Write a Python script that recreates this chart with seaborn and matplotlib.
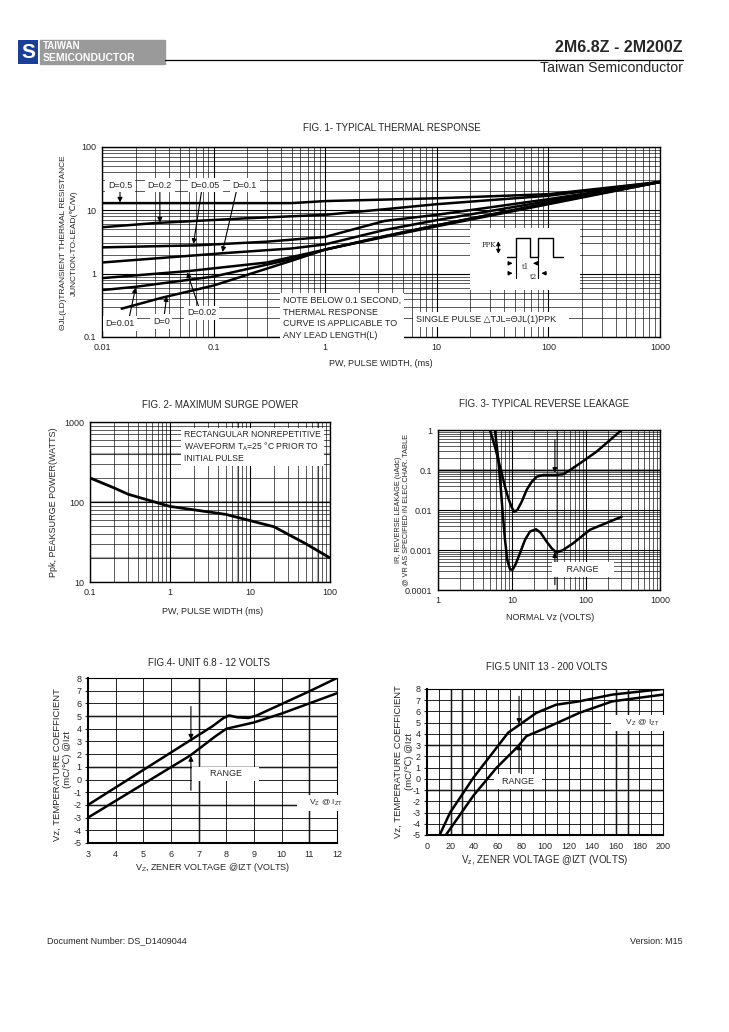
import numpy as np
import pandas as pd
import seaborn as sns
import matplotlib.pyplot as plt
from matplotlib.ticker import FuncFormatter, LogLocator, NullFormatter, MultipleLocator
from matplotlib.patches import Rectangle

sns.set_style("white")
plt.rcParams['font.family'] = ['Liberation Sans', 'DejaVu Sans']
plt.rcParams['font.size'] = 6.5
plt.rcParams['axes.unicode_minus'] = False

# Fig 1 - typical thermal response, one curve per duty cycle
d05_x = [0.01, 0.5, 1, 10, 100, 1000]
d05_y = [13, 13, 14, 15.5, 18, 28]
d02_x = [0.01, 0.03, 0.2, 1, 3.4, 10, 100, 1000]
d02_y = [5.4, 6.3, 7.5, 8.5, 10.4, 12.5, 17, 28]
d005_x = [0.01, 0.07, 0.3, 1, 3.4, 10, 100, 1000]
d005_y = [2.6, 2.8, 3.2, 3.8, 6.8, 8.5, 15, 28]
d01_x = [0.01, 0.12, 0.5, 1, 3.4, 10, 100, 1000]
d01_y = [1.5, 2.1, 2.5, 2.9, 4.9, 7, 14, 28]
d002_x = [0.01, 0.06, 0.3, 1, 3.4, 10, 100, 1000]
d002_y = [0.85, 1.1, 1.5, 2.4, 3.9, 5.8, 13, 28]
d001_x = [0.01, 0.02, 0.1, 0.5, 1, 3.4, 10, 100, 1000]
d001_y = [0.55, 0.62, 0.9, 1.7, 2.4, 3.9, 5.8, 13, 28]
d0_x = [0.015, 0.035, 0.1, 0.5, 1, 3.4, 10, 100, 1000]
d0_y = [0.28, 0.42, 0.65, 1.6, 2.4, 3.8, 5.6, 12.5, 28]

# Fig 2 - maximum surge power
pw_ms = [0.1, 0.2, 0.3, 1, 5, 20, 50, 100]
ppk_w = [200, 150, 125, 88, 70, 49, 30, 20]

# Fig 3 - typical reverse leakage (upper and lower limit)
ir_hi_vz = [5.04, 5.89, 6.53, 7.26, 8.04, 8.92, 9.9, 10.7, 11.8, 13.5, 15.8, 18.5,
            21.6, 26.5, 38, 49, 61, 83, 139, 303]
ir_hi = [1.0, 0.38, 0.178, 0.083, 0.038, 0.0196, 0.0117, 0.0091, 0.01, 0.016, 0.032, 0.051,
         0.068, 0.075, 0.075, 0.078, 0.1, 0.147, 0.288, 1.0]
ir_lo_vz = [5.89, 6.53, 7.03, 7.49, 8.04, 8.65, 9.4, 10.2, 11.3, 12.8, 15, 17.5, 21.1,
            24.4, 28.8, 34.4, 40, 49, 67, 113, 303]
ir_lo = [1.0, 0.178, 0.038, 0.0083, 0.0018, 0.00056, 0.00033, 0.00032, 0.00046, 0.00083,
         0.0018, 0.0029, 0.0033, 0.0027, 0.0017, 0.0011, 0.00086, 0.001, 0.00147, 0.0032, 0.0068]

# Fig 4 - temperature coefficient, 6.8 - 12 V
tc4_hi_vz = [3, 7.5, 7.9, 8.1, 8.4, 8.8, 9.1, 10, 11, 12]
tc4_hi = [-2, 4.2, 4.85, 5.05, 4.9, 4.85, 5.05, 5.95, 6.95, 8]
tc4_lo_vz = [3, 6.7, 7.6, 8, 8.5, 9, 10, 11, 12]
tc4_lo = [-3, 1.9, 3.4, 4.0, 4.25, 4.5, 5.2, 6.0, 6.8]

# Fig 5 - temperature coefficient, 13 - 200 V
tc5_hi_vz = [10.7, 19.6, 39.3, 53.3, 68.7, 78.6, 92.6, 109.4, 129, 157, 200]
tc5_hi = [-5, -3.0, 0.1, 2.0, 4.1, 4.83, 5.87, 6.6, 6.9, 7.5, 8.0]
tc5_lo_vz = [16, 39.3, 58.9, 77.2, 84.2, 101, 129, 157, 200]
tc5_lo = [-5, -1.5, 0.98, 2.9, 3.8, 4.54, 5.87, 6.9, 7.5]

W, H = 729, 1032
fig = plt.figure(figsize=(W / 100, H / 100), dpi=100)


def add_ax(x0, y0, x1, y1):
    return fig.add_axes([x0 / W, 1 - y1 / H, (x1 - x0) / W, (y1 - y0) / H])


def ftext(x, y, s, **kw):
    fig.text(x / W, 1 - y / H, s, **kw)


def curve(ax, xs, ys, lw=1.8):
    sns.lineplot(x=xs, y=ys, ax=ax, color='black', lw=lw, estimator=None, sort=False)


def arrow(ax, tail, tip, lw=0.8):
    ax.annotate('', xy=tip, xytext=tail,
                arrowprops=dict(arrowstyle='-|>', color='black', lw=lw, mutation_scale=7,
                                shrinkA=0, shrinkB=0))


def box_text(ax, x, y, s, **kw):
    ax.text(x, y, s, bbox=dict(facecolor='white', edgecolor='none', pad=2), zorder=5, **kw)


def style_log(ax):
    ax.grid(True, which='major', color='black', lw=0.8)
    ax.grid(True, which='minor', color='black', lw=0.45)
    ax.xaxis.set_minor_locator(LogLocator(base=10, subs=np.arange(2, 10)))
    ax.yaxis.set_minor_locator(LogLocator(base=10, subs=np.arange(2, 10)))
    ax.xaxis.set_minor_formatter(NullFormatter())
    ax.yaxis.set_minor_formatter(NullFormatter())
    fmt = FuncFormatter(lambda v, p: '%g' % v)
    ax.xaxis.set_major_formatter(fmt)
    ax.yaxis.set_major_formatter(fmt)
    ax.tick_params(which='both', length=0, labelsize=6.5, pad=4)
    for s in ax.spines.values():
        s.set_color('black')
        s.set_linewidth(1.0)


# ---------------- header ----------------
logo = fig.add_axes([18 / W, 1 - 64 / H, 20 / W, 24 / H])
logo.axis('off')
logo.add_patch(Rectangle((0, 0), 1, 1, color='#1b3f95'))
logo.text(0.5, 0.48, 'S', color='white', fontsize=15, fontweight='bold', ha='center', va='center')
fig.patches.append(Rectangle((40 / W, 1 - 64 / H), 125 / W, 24 / H, transform=fig.transFigure,
                             color='#9a9a9a'))
ftext(43, 46, 'TAIWAN', color='white', fontsize=7, fontweight='bold', va='center')
ftext(43, 58, 'SEMICONDUCTOR', color='white', fontsize=7.5, fontweight='bold', va='center')
fig.add_artist(plt.Line2D([165 / W, 683 / W], [1 - 59.5 / H, 1 - 59.5 / H], color='black', lw=0.9))
ftext(683, 48, '2M6.8Z - 2M200Z', fontsize=11.5, fontweight='bold', ha='right', va='center')
ftext(683, 67.5, 'Taiwan Semiconductor', fontsize=10.2, ha='right', va='center')

# ---------------- Fig 1 ----------------
ax1 = add_ax(102, 147, 660, 337)
ax1.set_xscale('log')
ax1.set_yscale('log')
for xs, ys in [(d05_x, d05_y), (d02_x, d02_y), (d005_x, d005_y), (d01_x, d01_y),
               (d002_x, d002_y), (d001_x, d001_y), (d0_x, d0_y)]:
    curve(ax1, xs, ys)
ax1.set_xlim(0.01, 1000)
ax1.set_ylim(0.1, 100)
style_log(ax1)
for x, s in [(0.0145, 'D=0.5'), (0.033, 'D=0.2'), (0.084, 'D=0.05'), (0.19, 'D=0.1')]:
    box_text(ax1, x, 25, s, ha='center', va='center', fontsize=6.5)
arrow(ax1, (0.0145, 20), (0.0145, 13.3))
arrow(ax1, (0.033, 20), (0.033, 6.4))
arrow(ax1, (0.078, 20), (0.066, 2.95))
arrow(ax1, (0.16, 20), (0.12, 2.2))
box_text(ax1, 0.0145, 0.165, 'D=0.01', ha='center', va='center', fontsize=6.5)
box_text(ax1, 0.034, 0.175, 'D=0', ha='center', va='center', fontsize=6.5)
box_text(ax1, 0.078, 0.24, 'D=0.02', ha='center', va='center', fontsize=6.5)
arrow(ax1, (0.0175, 0.2), (0.02, 0.6))
arrow(ax1, (0.036, 0.21), (0.038, 0.44))
arrow(ax1, (0.074, 0.29), (0.058, 1.05))
box_text(ax1, 0.42, 0.2, 'NOTE BELOW 0.1 SECOND,\nTHERMAL RESPONSE\nCURVE IS APPLICABLE TO\nANY LEAD LENGTH(L)',
         ha='left', va='center', fontsize=6.5, linespacing=1.35)
box_text(ax1, 6.5, 0.19, 'SINGLE PULSE \u25b3TJL=\u0398JL(1)PPK    ', ha='left', va='center', fontsize=6.5)

# pulse sketch
ins = add_ax(470, 228, 580, 290)
ins.set_facecolor('white')
ins.set_xlim(0, 1)
ins.set_ylim(0, 1)
ins.set_xticks([])
ins.set_yticks([])
for s in ins.spines.values():
    s.set_visible(False)
ins.plot([0.333, 0.415, 0.415, 0.545, 0.545, 0.621, 0.621, 0.758, 0.758, 0.842],
         [0.538, 0.538, 0.833, 0.833, 0.538, 0.538, 0.833, 0.833, 0.538, 0.538], color='black', lw=1)
ins.plot([0.415, 0.415], [0.538, 0.19], color='black', lw=0.8)
ins.plot([0.621, 0.621], [0.538, 0.19], color='black', lw=0.8)
ins.annotate('', xy=(0.258, 0.833), xytext=(0.258, 0.538),
             arrowprops=dict(arrowstyle='<|-|>', color='black', lw=0.8, mutation_scale=6))
ins.text(0.17, 0.72, 'PPK', fontsize=5, family='DejaVu Serif', ha='center', va='center')
for tail, tip in [((0.333, 0.43), (0.413, 0.43)), ((0.62, 0.43), (0.548, 0.43)),
                  ((0.333, 0.27), (0.413, 0.27)), ((0.72, 0.27), (0.624, 0.27))]:
    ins.annotate('', xy=tip, xytext=tail,
                 arrowprops=dict(arrowstyle='-|>', color='black', lw=0.8, mutation_scale=6))
ins.text(0.505, 0.37, 't1', fontsize=5, family='DejaVu Serif', ha='center', va='center')
ins.text(0.575, 0.21, 't2', fontsize=5, family='DejaVu Serif', ha='center', va='center')

ftext(392, 128, 'FIG. 1- TYPICAL THERMAL RESPONSE', ha='center', va='center', fontsize=7)
ftext(381, 364, 'PW, PULSE WIDTH, (ms)', ha='center', va='center', fontsize=6.5)
ftext(64, 243, '\u0398JL(LD)TRANSIENT THERMAL RESISTANCE', rotation=90, ha='center', va='center', fontsize=6)
ftext(74, 243, 'JUNCTION-TO-LEAD(\u2103/W)', rotation=90, ha='center', va='center', fontsize=6)

# ---------------- Fig 2 ----------------
ax2 = add_ax(90, 422, 330, 582)
ax2.set_xscale('log')
ax2.set_yscale('log')
curve(ax2, pw_ms, ppk_w, lw=2)
ax2.set_xlim(0.1, 100)
ax2.set_ylim(10, 1000)
style_log(ax2)
for v in [7, 70]:
    ax2.axvline(v, color='#aaaaaa', lw=1.6, zorder=0.5)
for v in [20, 100, 400]:
    ax2.axhline(v, color='#aaaaaa', lw=1.6, zorder=0.5)
box_text(ax2, 1.5, 490, 'RECTANGULAR NONREPETITIVE\nWAVEFORM T$_\\mathregular{A}$=25 \u00b0C PRIOR TO\nINITIAL PULSE ',
         ha='left', va='center', fontsize=6.2, linespacing=1.15)
ftext(220, 405, 'FIG. 2- MAXIMUM SURGE POWER', ha='center', va='center', fontsize=7)
ftext(213, 612, 'PW, PULSE WIDTH (ms)', ha='center', va='center', fontsize=6.5)
ftext(54, 502, 'Ppk, PEAKSURGE POWER(WATTS)', rotation=90, ha='center', va='center', fontsize=6.5)

# ---------------- Fig 3 ----------------
ax3 = add_ax(438, 430, 660, 590)
ax3.set_xscale('log')
ax3.set_yscale('log')
curve(ax3, ir_hi_vz, ir_hi)
curve(ax3, ir_lo_vz, ir_lo)
ax3.set_xlim(1, 1000)
ax3.set_ylim(0.0001, 1)
style_log(ax3)
ax3.axhline(0.1, color='#888888', lw=1.8, zorder=0.5)
ax3.axvline(40, color='#aaaaaa', lw=1.4, zorder=0.5)
arrow(ax3, (38, 0.56), (38, 0.085))
arrow(ax3, (38, 0.000135), (38, 0.00088))
box_text(ax3, 91, 0.00032, '     RANGE     ', ha='center', va='center', fontsize=6.5)
ftext(544, 404, 'FIG. 3- TYPICAL REVERSE LEAKAGE', ha='center', va='center', fontsize=7)
ftext(550, 618, 'NORMAL Vz (VOLTS)', ha='center', va='center', fontsize=6.5)
ftext(398, 510, 'IR, REVERSE LEAKAGE (uAdc)', rotation=90, ha='center', va='center', fontsize=5.3)
ftext(406, 510, '@ VR AS SPECIFIED IN ELEC.CHAR. TABLE', rotation=90, ha='center', va='center', fontsize=5.3)


def style_lin(ax, gray_x, gray_y):
    ax.grid(True, which='major', color='black', lw=0.6)
    for v in gray_x:
        ax.axvline(v, color='#aaaaaa', lw=1.8, zorder=0.5)
    for v in gray_y:
        ax.axhline(v, color='#aaaaaa', lw=1.8, zorder=0.5)
    ax.tick_params(axis='y', which='both', direction='out', length=2.5, labelsize=6.5, pad=2, left=True)
    ax.tick_params(axis='x', which='both', length=0, labelsize=6.5, pad=5)
    for s in ax.spines.values():
        s.set_color('black')
        s.set_linewidth(0.8)
    ax.spines['left'].set_linewidth(1.5)
    ax.spines['bottom'].set_linewidth(1.5)


# ---------------- Fig 4 ----------------
ax4 = add_ax(88, 678, 337, 843)
curve(ax4, tc4_hi_vz, tc4_hi)
curve(ax4, tc4_lo_vz, tc4_lo)
ax4.set_xlim(3, 12)
ax4.set_ylim(-5, 8)
ax4.xaxis.set_major_locator(MultipleLocator(1))
ax4.yaxis.set_major_locator(MultipleLocator(1))
style_lin(ax4, [7, 11], [5, 1, -2])
arrow(ax4, (6.72, 5.75), (6.72, 3.15))
arrow(ax4, (6.72, -0.85), (6.72, 1.85))
box_text(ax4, 7.97, 0.45, '      RANGE      ', ha='center', va='center', fontsize=6.5)
box_text(ax4, 11.5, -1.85, '    V$_\\mathregular{Z}$ @ I$_\\mathregular{ZT}$  ', ha='center', va='center', fontsize=6)
ftext(209, 663, 'FIG.4- UNIT 6.8 - 12 VOLTS', ha='center', va='center', fontsize=7)
ftext(213, 868, 'V$_\\mathregular{Z}$, ZENER VOLTAGE @IZT (VOLTS)', ha='center', va='center', fontsize=6.5)
ftext(57, 765, 'Vz, TEMPERATURE COEFFICIENT', rotation=90, ha='center', va='center', fontsize=6.8)
ftext(68, 760, '(mC/\u2103) @Izt', rotation=90, ha='center', va='center', fontsize=6.8)

# ---------------- Fig 5 ----------------
ax5 = add_ax(427, 689, 663, 835)
curve(ax5, tc5_hi_vz, tc5_hi)
curve(ax5, tc5_lo_vz, tc5_lo)
ax5.set_xlim(0, 200)
ax5.set_ylim(-5, 8)
ax5.xaxis.set_major_locator(MultipleLocator(20))
ax5.xaxis.set_minor_locator(MultipleLocator(10))
ax5.yaxis.set_major_locator(MultipleLocator(1))
style_lin(ax5, [20, 30, 160, 170], [3, -1])
ax5.grid(True, which='minor', axis='x', color='black', lw=0.6)
arrow(ax5, (78, 7.35), (78, 4.9))
arrow(ax5, (78, 0.55), (78, 3.05))
box_text(ax5, 77, -0.25, '  RANGE  ', ha='center', va='center', fontsize=6.5)
box_text(ax5, 182, 5.0, '     V$_\\mathregular{Z}$ @ I$_\\mathregular{ZT}$     ', ha='center', va='center', fontsize=6)
ftext(547, 667, 'FIG.5 UNIT 13 - 200 VOLTS', ha='center', va='center', fontsize=7)
ftext(545, 860, 'V$_\\mathregular{z}$, ZENER VOLTAGE @IZT (VOLTS)', ha='center', va='center', fontsize=7)
ftext(398, 762, 'Vz, TEMPERATURE COEFFICIENT', rotation=90, ha='center', va='center', fontsize=6.8)
ftext(409, 761, '(mC/\u2103) @Izt', rotation=90, ha='center', va='center', fontsize=6.8)

# ---------------- footer ----------------
ftext(47, 941, 'Document Number: DS_D1409044', ha='left', va='center', fontsize=6.5)
ftext(683, 941, 'Version: M15', ha='right', va='center', fontsize=6.5)

for a in [ax1, ax2, ax3, ax4, ax5]:
    a.set_xlabel('')
    a.set_ylabel('')

fig.savefig('out.png', dpi=100, facecolor='white')
